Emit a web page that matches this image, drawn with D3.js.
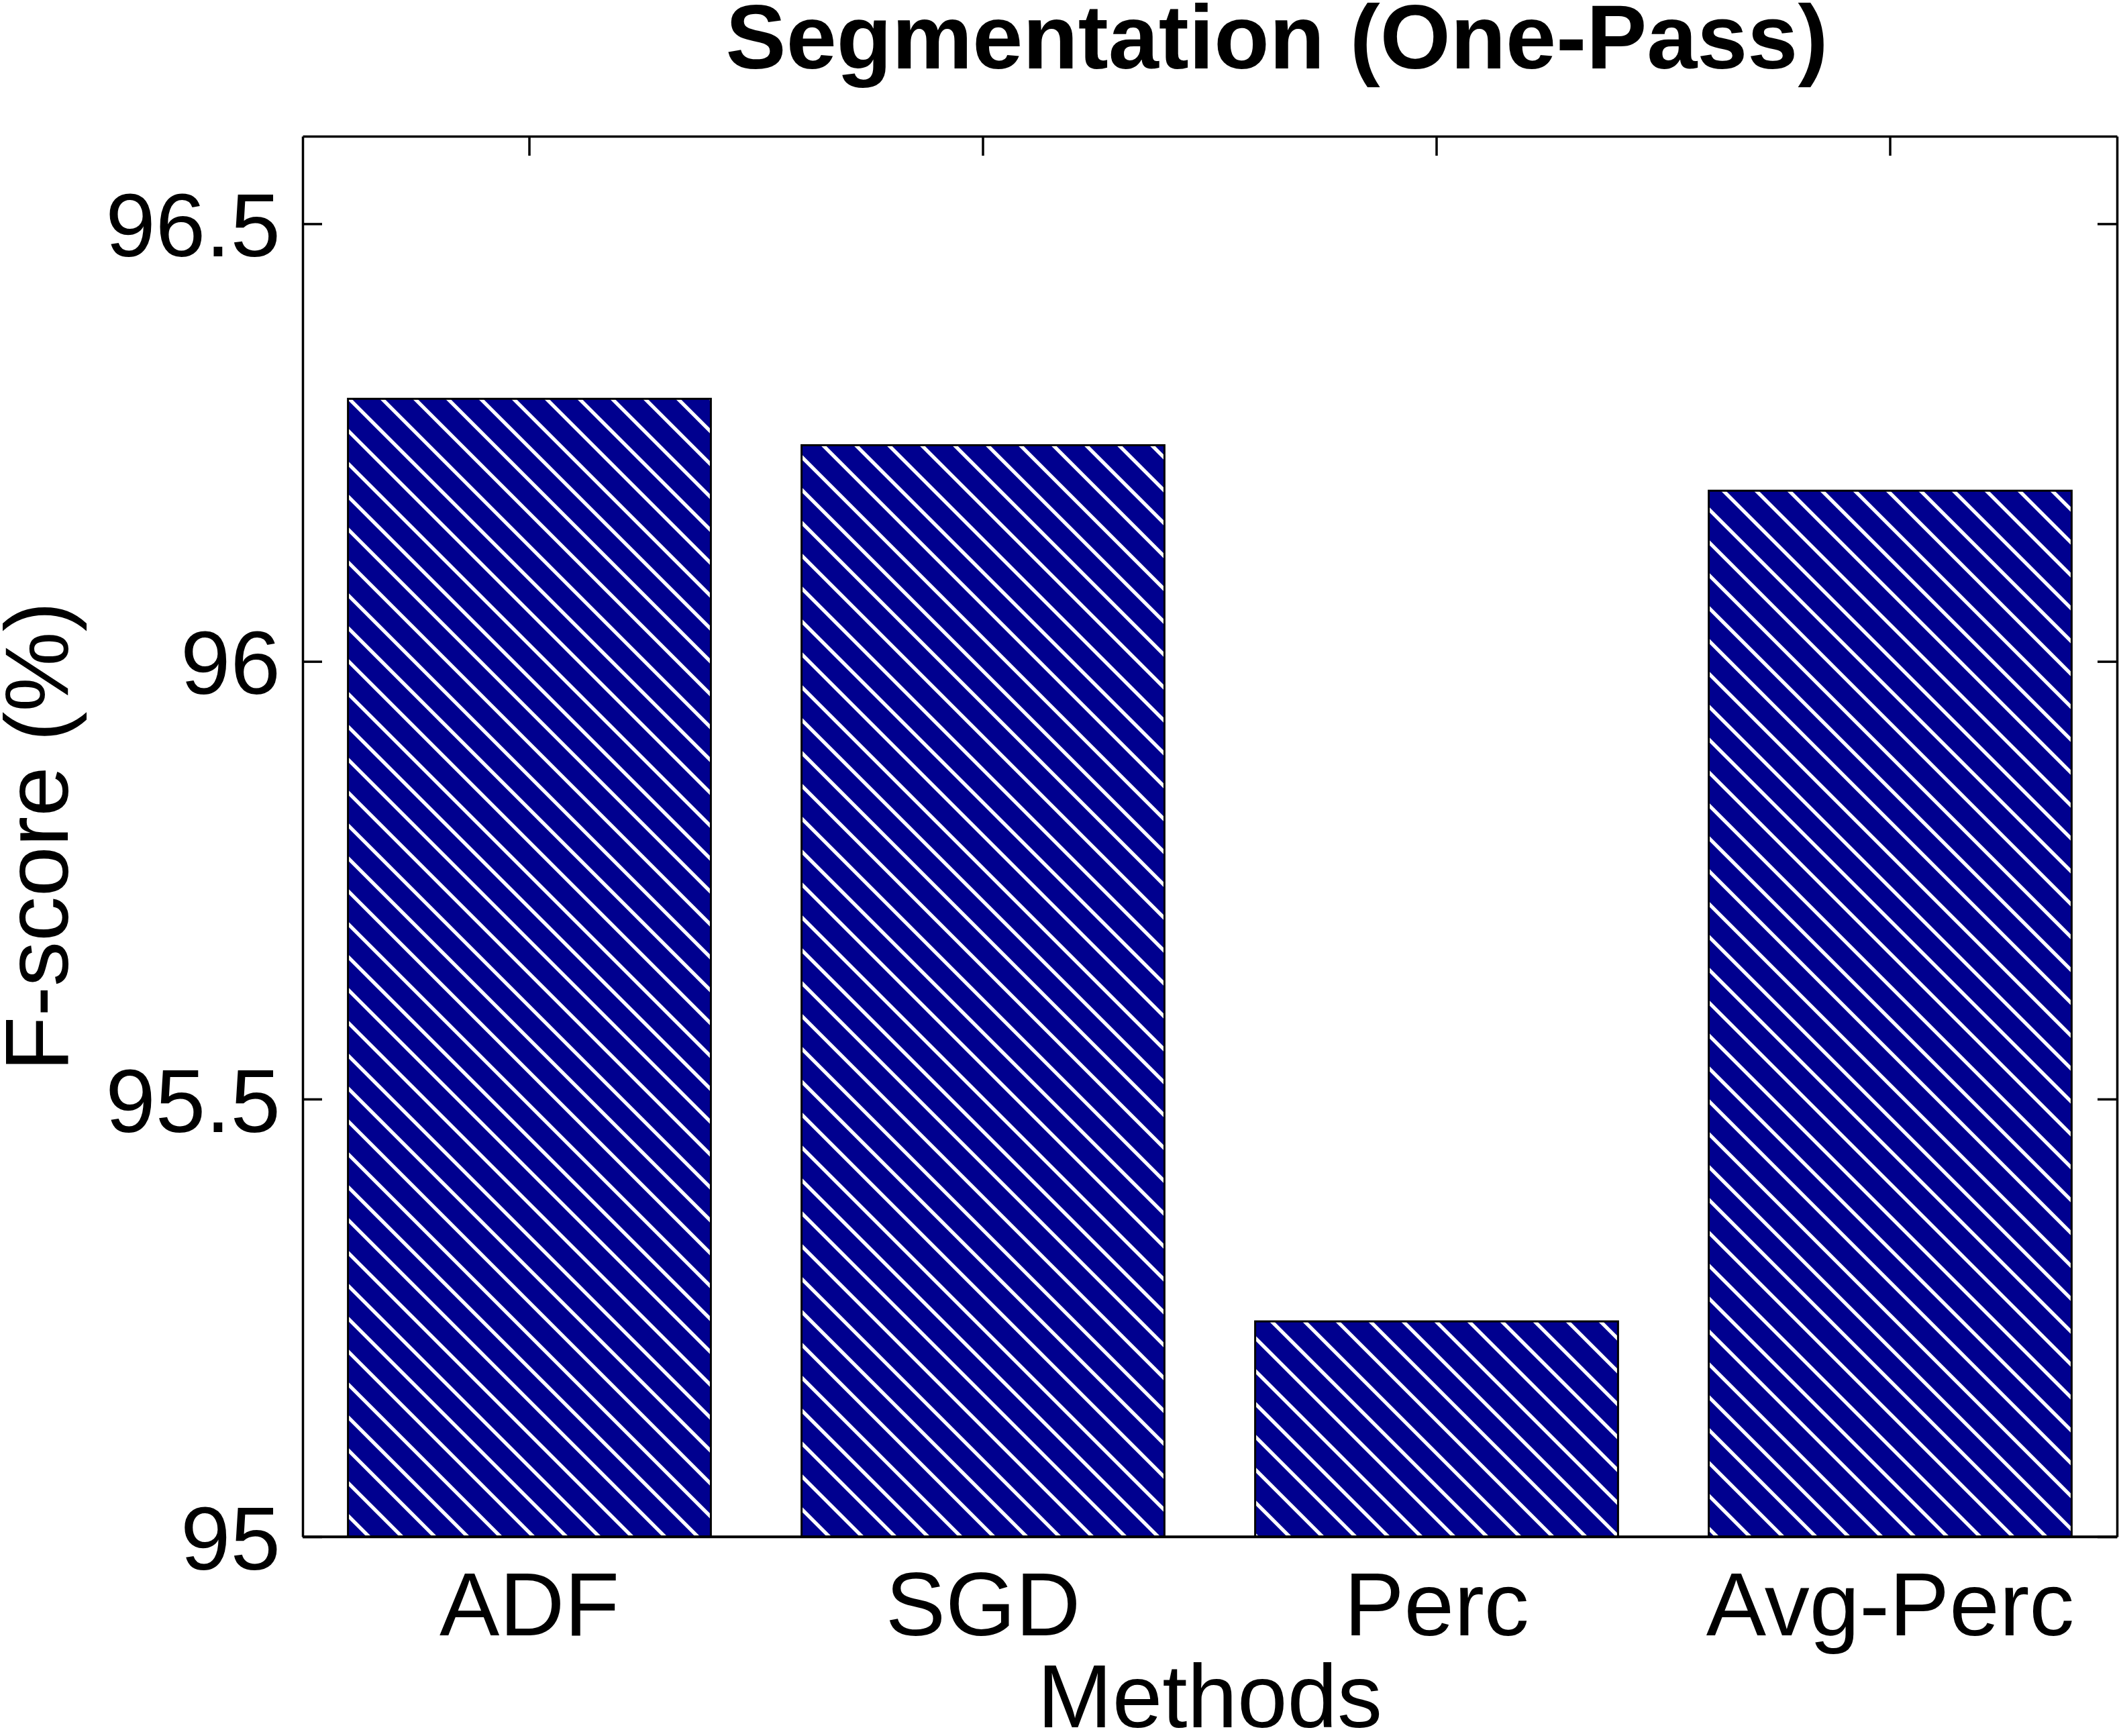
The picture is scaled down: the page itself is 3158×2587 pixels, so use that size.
<!DOCTYPE html>
<html>
<head>
<meta charset="utf-8">
<script src="https://cdn.jsdelivr.net/npm/d3@7"></script>
<style>
  html, body { margin: 0; padding: 0; background: #fff; }
  svg { display: block; }
  text { font-family: "Liberation Sans", Arial, Helvetica, sans-serif; fill: #000; }
</style>
</head>
<body>
<script>
const categories = ["ADF", "SGD", "Perc", "Avg-Perc"];
const fscores = [96.30, 96.247, 95.246, 96.195];
const yTickValues = [95, 95.5, 96, 96.5];
const yDomain = [95, 96.6];
const titleText = "Segmentation (One-Pass)";
const xLabelText = "Methods";
const yLabelText = "F-score (%)";

const W = 3158, H = 2587;
const plotLeft = 451, plotRight = 3155, plotTop = 203, plotBottom = 2290;
const tickLen = 29;
const fontSize = 134;

const svg = d3.select("body").append("svg")
  .attr("width", W).attr("height", H);

const defs = svg.append("defs");
const pat = defs.append("pattern")
  .attr("id", "hatch")
  .attr("patternUnits", "userSpaceOnUse")
  .attr("width", 49).attr("height", 49);
pat.append("rect").attr("width", 49).attr("height", 49).attr("fill", "#00008F");
pat.append("path")
  .attr("d", "M-35,-10 L59,84 M14,-10 L108,84")
  .attr("stroke", "#fff")
  .attr("stroke-width", 5.4)
  .attr("fill", "none");

const x = d3.scaleBand().domain(categories).range([plotLeft, plotRight])
  .paddingInner(0.2).paddingOuter(0.1);
const y = d3.scaleLinear().domain(yDomain).range([plotBottom, plotTop]);

function styleAxis(g) {
  g.selectAll("path.domain").attr("stroke", "#000").attr("stroke-width", 3.5);
  g.selectAll(".tick line").attr("stroke", "#000").attr("stroke-width", 3.5);
  g.selectAll("text").attr("font-size", fontSize)
    .attr("font-family", '"Liberation Sans", Arial, Helvetica, sans-serif')
    .attr("fill", "#000");
}

// bottom axis first so its inward ticks are hidden behind the bars
const gBottom = svg.append("g").attr("transform", `translate(0,${plotBottom})`)
  .call(d3.axisBottom(x).tickSizeInner(-tickLen).tickSizeOuter(0));
styleAxis(gBottom);
gBottom.selectAll("text").attr("dy", null).attr("y", 147);

// bars
svg.append("g").selectAll("rect")
  .data(categories.map((c, i) => ({c, v: fscores[i]})))
  .join("rect")
  .attr("x", d => x(d.c))
  .attr("width", x.bandwidth())
  .attr("y", d => y(d.v))
  .attr("height", d => y(yDomain[0]) - y(d.v))
  .attr("fill", "url(#hatch)")
  .attr("stroke", "#000")
  .attr("stroke-width", 3);

// bottom frame line redrawn over the bars
svg.append("line")
  .attr("x1", plotLeft).attr("x2", plotRight)
  .attr("y1", plotBottom).attr("y2", plotBottom)
  .attr("stroke", "#000").attr("stroke-width", 3.5);

const gLeft = svg.append("g").attr("transform", `translate(${plotLeft},0)`)
  .call(d3.axisLeft(y).tickValues(yTickValues).tickSizeInner(-tickLen)
    .tickSizeOuter(0).tickPadding(33).tickFormat(d => String(d)));
styleAxis(gLeft);
gLeft.selectAll("text").attr("dy", "0.36em");

const gRight = svg.append("g").attr("transform", `translate(${plotRight},0)`)
  .call(d3.axisRight(y).tickValues(yTickValues).tickSizeInner(-tickLen)
    .tickSizeOuter(0).tickFormat(""));
styleAxis(gRight);

const gTop = svg.append("g").attr("transform", `translate(0,${plotTop})`)
  .call(d3.axisTop(x).tickSizeInner(-tickLen).tickSizeOuter(0).tickFormat(""));
styleAxis(gTop);

// title
svg.append("text")
  .attr("x", 1903).attr("y", 102)
  .attr("text-anchor", "middle")
  .attr("font-size", 135).attr("font-weight", "bold")
  .text(titleText);

// x label
svg.append("text")
  .attr("x", (plotLeft + plotRight) / 2).attr("y", 2574)
  .attr("text-anchor", "middle")
  .attr("font-size", fontSize)
  .text(xLabelText);

// y label
svg.append("text")
  .attr("transform", `translate(101,${(plotTop + plotBottom) / 2}) rotate(-90)`)
  .attr("text-anchor", "middle")
  .attr("font-size", fontSize)
  .text(yLabelText);
</script>
</body>
</html>
